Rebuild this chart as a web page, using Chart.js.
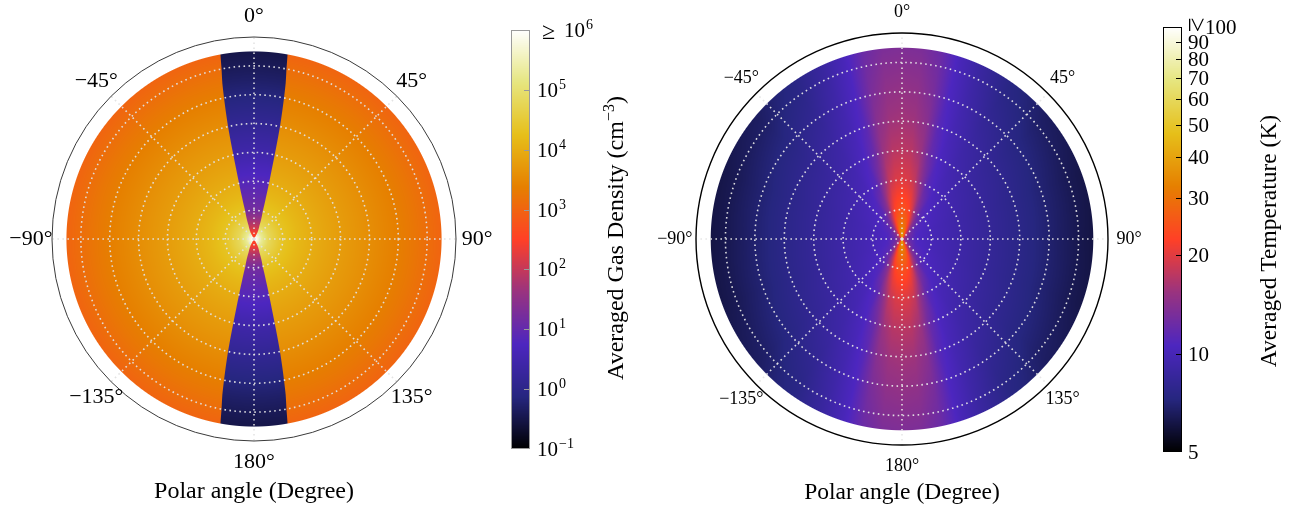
<!DOCTYPE html>
<html>
<head>
<meta charset="utf-8">
<title>Averaged gas density and temperature</title>
<script src="https://cdn.jsdelivr.net/npm/chart.js@4.4.1/dist/chart.umd.min.js"></script>
<style>
  html, body { margin: 0; padding: 0; background: #ffffff; }
  body { position: relative; width: 1291px; height: 506px; overflow: hidden; }
  canvas { position: absolute; }
</style>
</head>
<body>
<canvas id="densityPolar" width="520" height="540" style="left:-6px;top:-21px"></canvas>
<canvas id="temperaturePolar" width="520" height="540" style="left:642px;top:-21px"></canvas>
<canvas id="densityBar" width="170" height="506" style="left:495px;top:0px"></canvas>
<canvas id="temperatureBar" width="141" height="506" style="left:1150px;top:0px"></canvas>
<script>
// ---------------------------------------------------------------------------
// Values
// ---------------------------------------------------------------------------
const ANGLE_LABELS = ['0°', '45°', '90°', '135°', '180°', '−135°', '−90°', '−45°'];
const RING_VALUES = [0, 1, 2, 3, 4, 5, 6];
const FRAME_RADIUS = 7;

// Averaged gas density (cm^-3): envelope and bipolar outflow cavity, by radius
const DENSITY_RADII     = [0, 0.25, 0.5, 1, 1.5, 2, 2.5, 3, 3.5, 4, 4.5, 5, 5.5, 6, 6.5];
const ENVELOPE_DENSITY  = [1.6e6, 2.0e5, 6.3e4, 2.2e4, 1.4e4, 1.0e4, 7.6e3, 5.9e3, 4.7e3, 3.7e3, 2.9e3, 2.3e3, 1.8e3, 1.35e3, 1.0e3];
const CAVITY_DENSITY    = [400, 250, 80, 16, 10, 7, 4.5, 2.8, 2.0, 1.4, 1.0, 0.7, 0.52, 0.4, 0.32];
const CAVITY_HALF_ANGLE = [30, 28, 22, 17.5, 16, 15, 14.3, 13.8, 13.4, 13, 12.5, 12, 11.5, 10.8, 10.3];

const DENSITY_TICKS = [0.1, 1, 10, 100, 1e3, 1e4, 1e5, 1e6];
const DENSITY_TICK_EXPONENTS = ['−1', '0', '1', '2', '3', '4', '5', '6'];

// Averaged temperature (K): one row per radius, columns by angle from the nearest pole (deg)
const TEMP_RADII = [0, 0.25, 0.5, 1, 2, 3, 4, 5, 6, 6.5];
const TEMP_POLAR_ANGLES = [0, 6, 12, 18, 25, 35, 50, 70, 90];
const TEMP_AT_R0    = [42, 41, 39, 36, 31, 26, 21, 18, 17];
const TEMP_AT_R0_25 = [35, 34, 32, 29, 24, 18.5, 14, 12.5, 12];
const TEMP_AT_R0_5  = [30, 29.5, 28, 25, 20, 14.5, 11.5, 10.8, 10.6];
const TEMP_AT_R1    = [25, 24.5, 23, 20, 15, 11.5, 10.5, 10.1, 10];
const TEMP_AT_R2    = [20, 19.5, 18, 14.5, 11.3, 10.2, 9.6, 9.2, 9.1];
const TEMP_AT_R3    = [17.5, 17.2, 15.5, 12.2, 10.5, 9.5, 8.8, 8.4, 8.3];
const TEMP_AT_R4    = [16, 15.7, 14.2, 11.2, 9.9, 8.9, 8.1, 7.7, 7.6];
const TEMP_AT_R5    = [15, 14.7, 13.2, 10.7, 9.4, 8.2, 7.4, 7.0, 6.9];
const TEMP_AT_R6    = [14, 13.8, 12.5, 10.3, 8.9, 7.6, 6.8, 6.4, 6.3];
const TEMP_AT_R6_5  = [13.5, 13.3, 12.2, 10.1, 8.7, 7.4, 6.6, 6.2, 6.1];
const TEMPERATURE_ROWS = [TEMP_AT_R0, TEMP_AT_R0_25, TEMP_AT_R0_5, TEMP_AT_R1, TEMP_AT_R2,
                          TEMP_AT_R3, TEMP_AT_R4, TEMP_AT_R5, TEMP_AT_R6, TEMP_AT_R6_5];

const TEMP_TICKS = [5, 10, 20, 30, 40, 50, 60, 70, 80, 90, 100];

// ---------------------------------------------------------------------------
// Colour map (CMRmap) and helpers
// ---------------------------------------------------------------------------
const CMRMAP = [[0, 0, 0], [0.15, 0.15, 0.5], [0.3, 0.15, 0.75], [0.6, 0.2, 0.5], [1, 0.25, 0.15],
                [0.9, 0.5, 0], [0.9, 0.75, 0.1], [0.9, 0.9, 0.5], [1, 1, 1]];
const clamp = (v, lo = 0, hi = 1) => Math.min(hi, Math.max(lo, v));
const lerp = (a, b, t) => a + (b - a) * t;
function cmr(f) {
  const x = clamp(f) * (CMRMAP.length - 1);
  const i = Math.min(CMRMAP.length - 2, Math.floor(x)), t = x - i;
  const a = CMRMAP[i], b = CMRMAP[i + 1];
  return [0, 1, 2].map(c => Math.round(255 * lerp(a[c], b[c], t)));
}
const densityFraction = n => (Math.log10(n) + 1) / 7;          // 10^-1 .. 10^6
const temperatureFraction = T => Math.log(T / 5) / Math.log(20); // 5 .. 100 K
const FONT = '"Liberation Serif", "Times New Roman", serif';

// ---------------------------------------------------------------------------
// Polar field painter: every pixel is placed through the radial scale
// ---------------------------------------------------------------------------
function paintPolarField(chart, radii, colorAt) {
  const s = chart.scales.r, ctx = chart.ctx;
  const nodes = radii.map(v => s.getDistanceFromCenterForValue(v));
  const edge = nodes[nodes.length - 1];
  const half = Math.ceil(edge) + 2, size = 2 * half;
  const off = document.createElement('canvas');
  off.width = off.height = size;
  const octx = off.getContext('2d');
  const img = octx.createImageData(size, size), px = img.data;
  for (let j = 0; j < size; j++) {
    for (let i = 0; i < size; i++) {
      const dx = i + 0.5 - half, dy = j + 0.5 - half;
      const d = Math.hypot(dx, dy);
      const cover = clamp(edge - d + 0.5);
      if (cover <= 0) continue;
      let k = 0;
      while (k < nodes.length - 2 && d > nodes[k + 1]) k++;
      const t = clamp((d - nodes[k]) / (nodes[k + 1] - nodes[k]));
      const psi = Math.atan2(Math.abs(dx), Math.abs(dy)) * 180 / Math.PI;
      const rgb = colorAt(k, t, psi, d);
      const o = 4 * (j * size + i);
      px[o] = rgb[0]; px[o + 1] = rgb[1]; px[o + 2] = rgb[2]; px[o + 3] = Math.round(255 * cover);
    }
  }
  octx.putImageData(img, 0, 0);
  ctx.drawImage(off, s.xCenter - half, s.yCenter - half);
}

function densityColor(k, t, psi, d) {
  const env = lerp(Math.log10(ENVELOPE_DENSITY[k]), Math.log10(ENVELOPE_DENSITY[k + 1]), t);
  const cav = lerp(Math.log10(CAVITY_DENSITY[k]), Math.log10(CAVITY_DENSITY[k + 1]), t);
  const open = lerp(CAVITY_HALF_ANGLE[k], CAVITY_HALF_ANGLE[k + 1], t);
  const w = clamp((open - psi) * Math.PI / 180 * Math.max(d, 1) + 0.5);
  const a = cmr((env + 1) / 7), b = cmr((cav + 1) / 7);
  return [0, 1, 2].map(c => Math.round(lerp(a[c], b[c], w)));
}

function temperatureColor(k, t, psi) {
  const A = TEMP_POLAR_ANGLES;
  let m = 0;
  while (m < A.length - 2 && psi > A[m + 1]) m++;
  const u = clamp((psi - A[m]) / (A[m + 1] - A[m]));
  const rowLog = row => lerp(Math.log(row[m]), Math.log(row[m + 1]), u);
  const T = Math.exp(lerp(rowLog(TEMPERATURE_ROWS[k]), rowLog(TEMPERATURE_ROWS[k + 1]), t));
  return cmr(temperatureFraction(T));
}

function polarChart(id, cfg) {
  return new Chart(document.getElementById(id), {
    type: 'radar',
    data: { labels: ANGLE_LABELS, datasets: [] },
    options: {
      responsive: false,
      animation: false,
      devicePixelRatio: 1,
      layout: { padding: cfg.padding },
      plugins: { legend: { display: false }, tooltip: { enabled: false } },
      scales: {
        r: {
          min: 0,
          max: FRAME_RADIUS,
          startAngle: 0,
          ticks: { display: false },
          afterBuildTicks: scale => { scale.ticks = RING_VALUES.map(v => ({ value: v })); },
          grid: { circular: true, color: cfg.gridColor, lineWidth: 1.6, z: 1, borderDash: [1.6, 3.4] },
          border: { dash: [1.6, 3.4] },
          angleLines: { display: true, color: cfg.gridColor, lineWidth: 1.6, borderDash: [1.6, 3.4] },
          pointLabels: { display: false }
        }
      }
    },
    plugins: [
      {
        id: 'polarField',
        beforeDatasetsDraw(chart) { paintPolarField(chart, cfg.radii, cfg.colorAt); }
      },
      {
        id: 'polarFrame',
        afterDraw(chart) {
          const s = chart.scales.r, ctx = chart.ctx;
          ctx.save();
          ctx.beginPath();
          ctx.arc(s.xCenter, s.yCenter, s.getDistanceFromCenterForValue(FRAME_RADIUS), 0, 2 * Math.PI);
          ctx.strokeStyle = cfg.frameColor;
          ctx.lineWidth = cfg.frameWidth;
          ctx.stroke();
          ctx.fillStyle = '#000';
          ctx.font = cfg.labelFont;
          ctx.textAlign = 'center';
          ctx.textBaseline = 'middle';
          const dist = s.getDistanceFromCenterForValue(cfg.labelRadius);
          ANGLE_LABELS.forEach((label, i) => {
            const p = s.getPointPosition(i, dist);
            ctx.fillText(label, p.x, p.y);
          });
          ctx.font = cfg.titleFont;
          ctx.textBaseline = 'alphabetic';
          ctx.fillText('Polar angle (Degree)', s.xCenter, s.yCenter + cfg.titleOffset);
          ctx.restore();
        }
      }
    ]
  });
}

// ---------------------------------------------------------------------------
// Colour bars: a hidden logarithmic axis places every row, tick and label
// ---------------------------------------------------------------------------
function drawRotatedRich(ctx, x, yMid, parts) {
  let total = 0;
  parts.forEach(p => { ctx.font = p.font; p.w = ctx.measureText(p.text).width; total += p.w; });
  ctx.save();
  ctx.translate(x, yMid);
  ctx.rotate(-Math.PI / 2);
  ctx.textAlign = 'left';
  ctx.textBaseline = 'alphabetic';
  let cur = -total / 2;
  parts.forEach(p => { ctx.font = p.font; ctx.fillText(p.text, cur, -(p.rise || 0)); cur += p.w; });
  ctx.restore();
}

function colorbarChart(id, cfg) {
  return new Chart(document.getElementById(id), {
    type: 'bar',
    data: { labels: [''], datasets: [] },
    options: {
      responsive: false,
      animation: false,
      devicePixelRatio: 1,
      layout: { padding: cfg.padding },
      plugins: { legend: { display: false }, tooltip: { enabled: false } },
      scales: {
        x: { display: false },
        y: { type: 'logarithmic', display: false, min: cfg.min, max: cfg.max }
      }
    },
    plugins: [{
      id: 'colorbar',
      afterDraw(chart) {
        const ctx = chart.ctx, a = chart.chartArea, y = chart.scales.y;
        ctx.save();
        for (let py = Math.floor(a.top); py < Math.ceil(a.bottom); py++) {
          const c = cmr(cfg.fraction(y.getValueForPixel(py + 0.5)));
          ctx.fillStyle = 'rgb(' + c.join(',') + ')';
          ctx.fillRect(a.left, py, a.right - a.left, 1);
        }
        ctx.strokeStyle = cfg.frameColor;
        ctx.lineWidth = 1;
        ctx.strokeRect(a.left + 0.5, a.top + 0.5, a.right - a.left - 1, a.bottom - a.top - 1);
        ctx.beginPath();
        cfg.ticks.slice(1, -1).forEach(v => {
          const yy = Math.round(y.getPixelForValue(v)) + 0.5;
          ctx.moveTo(a.right - 1, yy);
          ctx.lineTo(a.right - 6, yy);
        });
        ctx.stroke();
        ctx.fillStyle = '#000';
        cfg.drawLabels(ctx, a, y);
        cfg.drawTitle(ctx, a);
        ctx.restore();
      }
    }]
  });
}

// ---------------------------------------------------------------------------
// Charts
// ---------------------------------------------------------------------------
polarChart('densityPolar', {
  padding: { left: 58, right: 58, top: 58, bottom: 78 },
  gridColor: 'rgba(225,225,225,0.95)',
  radii: DENSITY_RADII,
  colorAt: densityColor,
  frameColor: '#3a3a3a',
  frameWidth: 1,
  labelFont: '22px ' + FONT,
  labelRadius: 7.73,
  titleFont: '24px ' + FONT,
  titleOffset: 259
});

polarChart('temperaturePolar', {
  padding: { left: 54, right: 54, top: 54, bottom: 74 },
  gridColor: 'rgba(230,230,230,0.95)',
  radii: TEMP_RADII,
  colorAt: temperatureColor,
  frameColor: '#000',
  frameWidth: 1.4,
  labelFont: '18px ' + FONT,
  labelRadius: 7.72,
  titleFont: '23.5px ' + FONT,
  titleOffset: 260
});

colorbarChart('densityBar', {
  padding: { left: 16, right: 135, top: 30, bottom: 57 },
  min: DENSITY_TICKS[0],
  max: DENSITY_TICKS[DENSITY_TICKS.length - 1],
  ticks: DENSITY_TICKS,
  fraction: densityFraction,
  frameColor: '#9a9a9a',
  drawLabels(ctx, a, y) {
    const base = '21px ' + FONT, sup = '14px ' + FONT;
    ctx.textAlign = 'left';
    ctx.textBaseline = 'alphabetic';
    DENSITY_TICKS.forEach((v, i) => {
      const yy = y.getPixelForValue(v);
      let x = a.right + 7;
      if (i === DENSITY_TICKS.length - 1) {
        ctx.font = '24px ' + FONT;
        ctx.fillText('≥', x + 5, yy + 9);
        x += 27;
      }
      ctx.font = base;
      ctx.fillText('10', x, yy + 7);
      x += ctx.measureText('10').width + 1;
      ctx.font = sup;
      ctx.fillText(DENSITY_TICK_EXPONENTS[i], x, yy - 1);
    });
  },
  drawTitle(ctx) {
    drawRotatedRich(ctx, 128, 238, [
      { text: 'Averaged Gas Density (cm', font: '24px ' + FONT },
      { text: '−3', font: '16px ' + FONT, rise: 9 },
      { text: ')', font: '24px ' + FONT }
    ]);
  }
});

colorbarChart('temperatureBar', {
  padding: { left: 13, right: 109, top: 27, bottom: 54 },
  min: TEMP_TICKS[0],
  max: TEMP_TICKS[TEMP_TICKS.length - 1],
  ticks: TEMP_TICKS,
  fraction: temperatureFraction,
  frameColor: '#000',
  drawLabels(ctx, a, y) {
    ctx.textAlign = 'left';
    ctx.textBaseline = 'alphabetic';
    TEMP_TICKS.forEach((v, i) => {
      const yy = y.getPixelForValue(v);
      ctx.font = '21px ' + FONT;
      if (i === TEMP_TICKS.length - 1) {
        ctx.save();
        ctx.translate(a.right + 14, yy - 2);
        ctx.rotate(Math.PI / 2);
        ctx.font = '26px ' + FONT;
        ctx.textAlign = 'center';
        ctx.textBaseline = 'middle';
        ctx.fillText('≥', 0, 0);
        ctx.restore();
        ctx.fillText(String(v), a.right + 23, yy + 7);
      } else {
        ctx.fillText(String(v), a.right + 6, yy + 7);
      }
    });
  },
  drawTitle(ctx) {
    drawRotatedRich(ctx, 126, 241, [{ text: 'Averaged Temperature (K)', font: '23.5px ' + FONT }]);
  }
});
</script>
</body>
</html>
